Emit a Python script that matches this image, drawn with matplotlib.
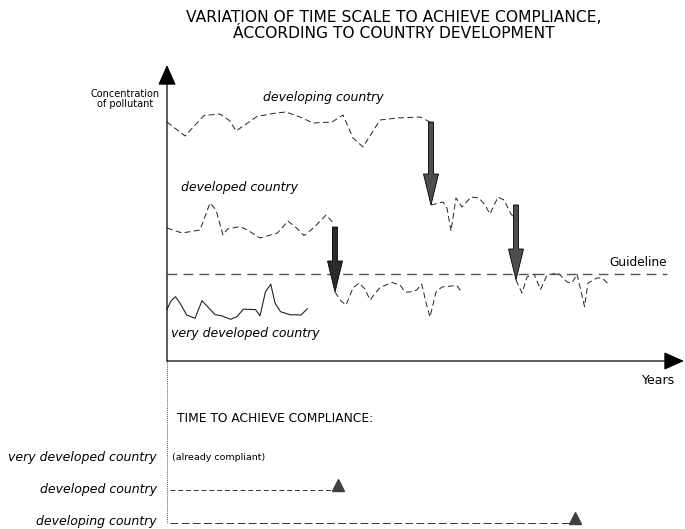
import matplotlib
matplotlib.use("Agg")
import matplotlib.pyplot as plt

# Schematic series: x = time since start, y = pollutant concentration
# (arbitrary units).
developing_x1 = [0, 18, 37, 53, 63, 69, 90, 109, 119, 133, 146, 165, 176, 186, 196, 213, 230, 253, 263]
developing_y1 = [239, 225, 245.5, 247, 240, 230, 244.5, 248, 249, 244, 238, 239, 246, 223, 214, 241, 243, 244, 239]
developing_x2 = [264, 276, 280, 284, 289, 295, 304, 312, 318, 323, 331, 337, 344, 346.5]
developing_y2 = [156, 159, 153, 130, 163, 154, 164, 163, 156, 147, 164, 161, 147, 144]
developing_x3 = [349, 355, 360, 367, 373.5, 380, 391, 400, 405, 410, 417.5, 421, 430, 435, 440.5]
developing_y3 = [81, 68, 84, 87, 71.5, 86, 88, 79, 78, 87, 54.5, 78, 83, 83, 78]

developed_x1 = [0, 15, 33, 43, 49, 56, 60.5, 73, 80.5, 93, 110.5, 121, 129, 137, 147, 159, 167]
developed_y1 = [133, 128, 131, 158, 151, 126, 132, 134.5, 131, 123, 128, 140, 133.5, 125.5, 133.5, 146, 137.5]
developed_x2 = [168, 174, 179, 186, 192, 198, 203, 213, 225, 233, 238, 243, 249.7, 254.7, 259, 263, 269, 275, 289.7, 294.7]
developed_y2 = [69, 60, 56, 73, 78, 72, 61, 73.5, 78.5, 76, 69, 69, 71, 77, 58.5, 44, 69, 74, 75.5, 69]

very_developed_x = [0, 4, 8.5, 13.5, 19.7, 28, 35, 48, 54.7, 63.5, 70, 76.3, 88.5, 93, 98.5, 103.8, 108, 113.5, 123, 134, 140.3]
very_developed_y = [51.7, 60, 64.3, 57, 46, 42.7, 60.3, 46.4, 45.2, 41.7, 44.3, 51.8, 51.4, 45.2, 69.3, 76.8, 58, 49.3, 46.3, 46, 52.2]

guideline = 86.7
guideline_end = 500

# step-down arrows: (time, from, to)
steps = [(264, 239, 156), (349, 156, 81), (168, 134, 69)]
step_colors = ["#4d4d4d", "#4d4d4d", "#2b2b2b"]

# time to achieve compliance panel
compliance_labels = ["very developed country", "developed country", "developing country"]
compliance_time = [0, 171, 408]

fig = plt.figure(figsize=(6.85, 5.29), dpi=100)
ax = fig.add_axes([0, 0, 1, 1])
ax.set_xlim(-167, 518)
ax.set_ylim(-168, 361)
ax.axis("off")

# axes with arrow heads
axis_kw = dict(arrowstyle="-|>,head_length=0.9,head_width=0.4", color="black", lw=0.9,
               shrinkA=0, shrinkB=0, mutation_scale=14)
ax.annotate("", xy=(0, 296), xytext=(0, 0), arrowprops=axis_kw)
ax.annotate("", xy=(517, 0), xytext=(0, 0), arrowprops=axis_kw)

line_kw = dict(color="#222222", lw=0.7)
for xs, ys in [(developing_x1, developing_y1), (developing_x2, developing_y2),
               (developing_x3, developing_y3), (developed_x1, developed_y1),
               (developed_x2, developed_y2)]:
    ax.plot(xs, ys, dashes=(6, 3.5), **line_kw)
ax.plot(very_developed_x, very_developed_y, color="#222222", lw=0.8)

ax.plot([0, guideline_end], [guideline, guideline], color="#555555", lw=1.0, dashes=(7, 4.5))

for (x, y0, y1), c in zip(steps, step_colors):
    ax.arrow(x, y0, 0, y1 - y0, width=5, head_width=15, head_length=31,
             length_includes_head=True, fc=c, ec="black", lw=0.6, zorder=3)

# texts
ax.text(227, 344, "VARIATION OF TIME SCALE TO ACHIEVE COMPLIANCE,", ha="center", va="center", fontsize=11.2)
ax.text(227, 328, "ÁCCORDING TO COUNTRY DEVELOPMENT", ha="center", va="center", fontsize=11.2)
ax.text(-42, 262, "Concentration\nof pollutant", ha="center", va="center", fontsize=7,
        linespacing=0.95)
ax.text(156, 264, "developing country", ha="center", va="center", fontsize=9, style="italic")
ax.text(14, 174, "developed country", ha="left", va="center", fontsize=9, style="italic")
ax.text(4, 27, "very developed country", ha="left", va="center", fontsize=9, style="italic")
ax.text(500, 98, "Guideline", ha="right", va="center", fontsize=8.7)
ax.text(492, -19, "Years", ha="center", va="center", fontsize=9)

# compliance panel
ax.text(10, -58, "TIME TO ACHIEVE COMPLIANCE:", ha="left", va="center", fontsize=8.8)
row_y = [-96, -129, -162]
ax.plot([0, 0], [0, row_y[-1]], color="#555555", lw=0.7, dashes=(1, 1))
ax.text(5, row_y[0], "(already compliant)", ha="left", va="center", fontsize=6.8)
for label, t, y in zip(compliance_labels, compliance_time, row_y):
    ty = y + 2 if label == "developing country" else y
    ax.text(-10, ty, label, ha="right", va="center", fontsize=9, style="italic")
    if t > 0:
        ax.plot([3, t], [y, y], color="#333333", lw=0.7, dashes=(5, 3) if t < 300 else (8, 3.5))
        ax.plot(t, y + 5, marker="^", markersize=8, color="#404040", mec="#404040")

fig.savefig("out.png", dpi=100)
